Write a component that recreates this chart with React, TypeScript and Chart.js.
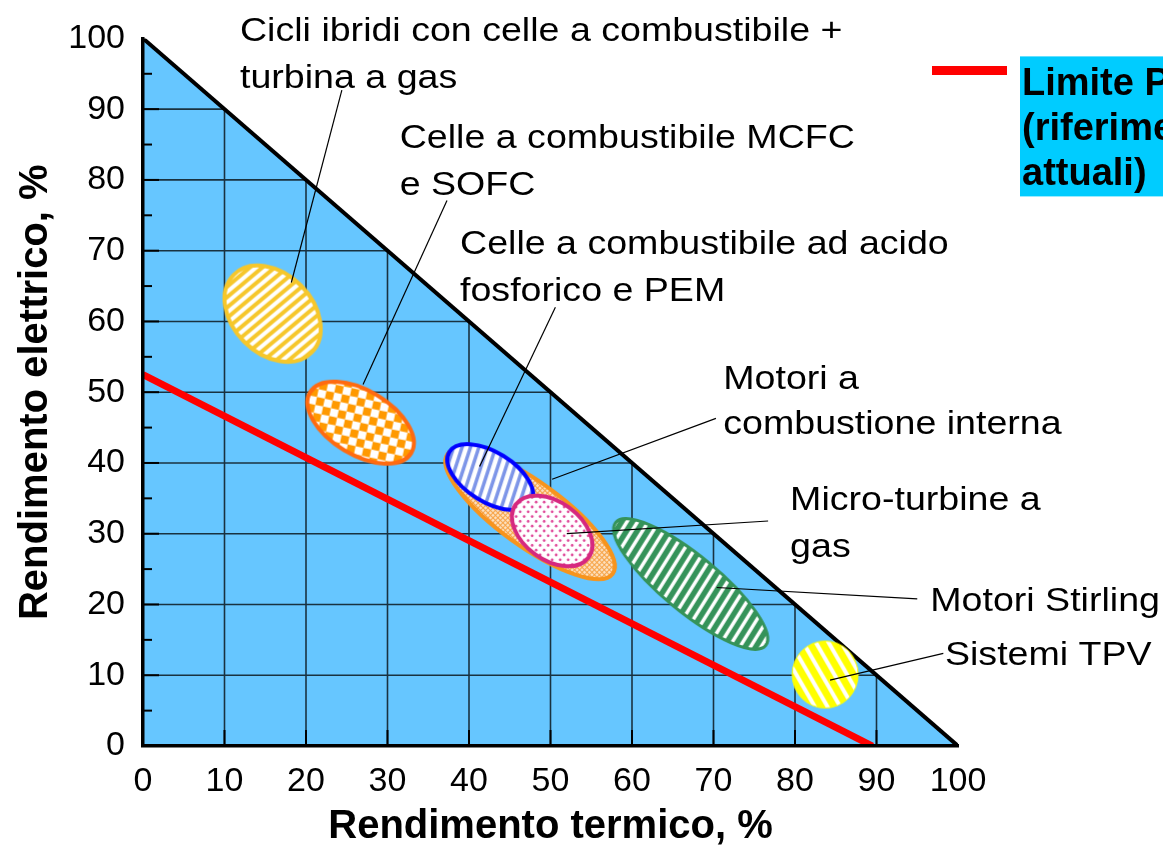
import React, { useEffect, useRef } from 'react';
import { Chart, registerables } from 'chart.js';

Chart.register(...registerables);

// ---------- data ----------
const axisTicks = [0, 10, 20, 30, 40, 50, 60, 70, 80, 90, 100];
const minorTicks = [5, 15, 25, 35, 45, 55, 65, 75, 85, 95];
const gridValues = [10, 20, 30, 40, 50, 60, 70, 80, 90];

const technologies = [
  'Cicli ibridi con celle a combustibile + turbina a gas',
  'Celle a combustibile MCFC e SOFC',
  'Motori a combustione interna',
  'Celle a combustibile ad acido fosforico e PEM',
  'Micro-turbine a gas',
  'Motori Stirling',
  'Sistemi TPV',
];
// centre of each technology region (rendimento termico %, rendimento elettrico %)
const thermalEfficiency = [15.9, 26.7, 47.5, 42.6, 50.2, 67.2, 83.7];
const electricEfficiency = [61.1, 45.7, 32.8, 38.0, 30.4, 22.9, 10.1];

// PES limit line (current reference values)
const pesLimitThermal = [0, 89.5];
const pesLimitElectric = [52.5, 0];

// physical boundary: thermal + electric = 100 %
const boundaryThermal = [0, 100];
const boundaryElectric = [100, 0];

const legendLabel = ['Limite PES', '(riferimenti', 'attuali)'];

// ---------- styles / layout ----------
type Pattern = { kind: string; angle?: number; period?: number; width?: number; color: string; size?: number; spacing?: number; r?: number };
type EllipseStyle = { a: number; b: number; rot: number; fill: string; stroke: string; lw: number; pattern: Pattern; layer: number };

const ellipseStyles: EllipseStyle[] = [
  { a: 55, b: 40, rot: 45, fill: '#FFFFFF', stroke: '#F6C72B', lw: 4, layer: 5,
    pattern: { kind: 'stripes', angle: -40, period: 8, width: 4, color: '#F6C72B' } },
  { a: 59, b: 32, rot: 31, fill: '#FFFFFF', stroke: '#FF6A10', lw: 4, layer: 5,
    pattern: { kind: 'checker', size: 8, angle: 12, color: '#FF9900' } },
  { a: 102, b: 32, rot: 35.9, fill: '#FDE2C2', stroke: '#F7941D', lw: 4, layer: 4,
    pattern: { kind: 'hatch', period: 3.5, width: 1, color: '#F7A040' } },
  { a: 48, b: 25, rot: 31.6, fill: '#FFFFFF', stroke: '#0000FF', lw: 4, layer: 3,
    pattern: { kind: 'stripes', angle: -72, period: 8, width: 3.5, color: '#7D95E8' } },
  { a: 45, b: 29, rot: 36, fill: '#FFFFFF', stroke: '#D6287F', lw: 4, layer: 2,
    pattern: { kind: 'dots', spacing: 8, r: 1.4, color: '#E04A9A' } },
  { a: 97, b: 28, rot: 39.4, fill: '#35935A', stroke: '#35935A', lw: 3, layer: 5,
    pattern: { kind: 'stripes', angle: -58, period: 9, width: 3.5, color: '#FFFFFF' } },
  { a: 33, b: 33.5, rot: 0, fill: '#FFFF00', stroke: '#FFFF00', lw: 1, layer: 5,
    pattern: { kind: 'stripes', angle: 60, period: 11, width: 4, color: '#FFFFFF' } },
];

// label anchors (data units): text left/baseline, leader line start -> end
const labelLayout = [
  { lines: ['Cicli ibridi con celle a combustibile +', 'turbina a gas'], x: 11.9, y: 99.7, gap: 47, lead: [24.4, 92.7, 18.2, 65.5] },
  { lines: ['Celle a combustibile MCFC', 'e SOFC'], x: 31.5, y: 84.5, gap: 47, lead: [37.3, 77.1, 27.0, 51.1] },
  { lines: ['Motori a', 'combustione interna'], x: 71.2, y: 50.5, gap: 45, lead: [70.3, 46.3, 50.2, 37.7] },
  { lines: ['Celle a combustibile ad acido', 'fosforico e PEM'], x: 38.9, y: 69.5, gap: 47, lead: [50.6, 62.0, 41.3, 39.5] },
  { lines: ['Micro-turbine a', 'gas'], x: 79.4, y: 33.3, gap: 47, lead: [76.7, 31.8, 52.0, 30.0] },
  { lines: ['Motori Stirling'], x: 96.6, y: 19.1, gap: 47, lead: [95.0, 20.8, 70.4, 22.4] },
  { lines: ['Sistemi TPV'], x: 98.4, y: 11.5, gap: 47, lead: [98.2, 13.1, 84.3, 9.3] },
];

const FONT = "'Liberation Sans', Arial, Helvetica, sans-serif";

function drawPattern(g: CanvasRenderingContext2D, p: Pattern, size: number) {
  g.save();
  g.translate(size / 2, size / 2);
  g.rotate(((p.angle || 0) * Math.PI) / 180);
  const L = size;
  if (p.kind === 'stripes') {
    g.strokeStyle = p.color;
    g.lineWidth = p.width || 1;
    for (let d = -L; d <= L; d += p.period || 8) {
      g.beginPath();
      g.moveTo(-L, d);
      g.lineTo(L, d);
      g.stroke();
    }
  } else if (p.kind === 'checker') {
    g.fillStyle = p.color;
    const s = p.size || 8;
    const n = Math.ceil(L / s);
    for (let i = -n; i <= n; i++)
      for (let j = -n; j <= n; j++)
        if ((i + j) % 2 === 0) g.fillRect(i * s, j * s, s, s);
  } else if (p.kind === 'hatch') {
    g.strokeStyle = p.color;
    g.lineWidth = p.width || 1;
    for (const ang of [45, -45]) {
      g.save();
      g.rotate((ang * Math.PI) / 180);
      for (let d = -L; d <= L; d += p.period || 4) {
        g.beginPath();
        g.moveTo(-L, d);
        g.lineTo(L, d);
        g.stroke();
      }
      g.restore();
    }
  } else if (p.kind === 'dots') {
    g.fillStyle = p.color;
    const s = p.spacing || 8;
    const n = Math.ceil(L / s);
    for (let j = -2 * n; j <= 2 * n; j++)
      for (let i = -n; i <= n; i++) {
        const x = i * s + (Math.abs(j) % 2 ? s / 2 : 0);
        const y = j * s * 0.6;
        g.beginPath();
        g.arc(x, y, p.r || 1.4, 0, Math.PI * 2);
        g.fill();
      }
  }
  g.restore();
}

function makeEllipseImage(s: EllipseStyle): HTMLCanvasElement {
  const R = Math.ceil(Math.max(s.a, s.b) + s.lw + 2);
  const size = 2 * R;
  const c = document.createElement('canvas');
  c.width = size;
  c.height = size;
  const g = c.getContext('2d')!;
  const path = new Path2D();
  path.ellipse(R, R, s.a, s.b, (s.rot * Math.PI) / 180, 0, Math.PI * 2);
  g.save();
  g.clip(path);
  g.fillStyle = s.fill;
  g.fillRect(0, 0, size, size);
  drawPattern(g, s.pattern, size);
  g.restore();
  g.lineWidth = s.lw;
  g.strokeStyle = s.stroke;
  g.stroke(path);
  return c;
}

const annotationPlugin = {
  id: 'rendimentoAnnotations',
  afterDatasetsDraw(chart: any) {
    const { ctx, chartArea } = chart;
    const xs = chart.scales.x;
    const ys = chart.scales.y;
    ctx.save();
    // small tick marks on the axes
    ctx.strokeStyle = '#000';
    ctx.lineWidth = 2;
    minorTicks.forEach((v) => {
      const py = ys.getPixelForValue(v);
      ctx.beginPath();
      ctx.moveTo(chartArea.left, py);
      ctx.lineTo(chartArea.left + 9, py);
      ctx.stroke();
    });
    axisTicks.slice(1, -1).forEach((v) => {
      const py = ys.getPixelForValue(v);
      ctx.beginPath();
      ctx.moveTo(chartArea.left, py);
      ctx.lineTo(chartArea.left + 16, py);
      ctx.stroke();
      const px = xs.getPixelForValue(v);
      ctx.beginPath();
      ctx.moveTo(px, chartArea.bottom);
      ctx.lineTo(px, chartArea.bottom - 16);
      ctx.stroke();
    });

    // leader lines
    ctx.strokeStyle = '#000';
    ctx.lineWidth = 1.2;
    labelLayout.forEach((l) => {
      ctx.beginPath();
      ctx.moveTo(xs.getPixelForValue(l.lead[0]), ys.getPixelForValue(l.lead[1]));
      ctx.lineTo(xs.getPixelForValue(l.lead[2]), ys.getPixelForValue(l.lead[3]));
      ctx.stroke();
    });

    // labels
    ctx.fillStyle = '#000';
    ctx.font = `34px ${FONT}`;
    ctx.textBaseline = 'alphabetic';
    ctx.textAlign = 'left';
    labelLayout.forEach((l) => {
      const px = xs.getPixelForValue(l.x);
      const py = ys.getPixelForValue(l.y);
      l.lines.forEach((t, k) => {
        ctx.save();
        ctx.translate(px, py + k * l.gap);
        ctx.scale(1.105, 1);
        ctx.fillText(t, 0, 0);
        ctx.restore();
      });
    });

    // legend for PES limit
    const lx = chartArea.right;
    const ty = chartArea.top;
    ctx.strokeStyle = '#FF0000';
    ctx.lineWidth = 9;
    ctx.beginPath();
    ctx.moveTo(lx - 26, ty + 32);
    ctx.lineTo(lx + 49, ty + 32);
    ctx.stroke();
    ctx.fillStyle = '#00CCFF';
    ctx.fillRect(lx + 62, ty + 18, chart.width - (lx + 62), 140);
    ctx.fillStyle = '#000';
    ctx.font = `bold 38px ${FONT}`;
    legendLabel.forEach((t, k) => {
      ctx.fillText(t, lx + 64, ty + 57 + k * 45);
    });
    ctx.restore();
  },
};

export default function App() {
  const ref = useRef<HTMLCanvasElement>(null);
  useEffect(() => {
    document.body.style.margin = '0';
    const canvas = ref.current!;
    Chart.defaults.font.family = FONT;
    Chart.defaults.color = '#000';

    const images = ellipseStyles.map(makeEllipseImage);

    const gridData: { x: number | null; y: number | null }[] = [];
    gridValues.forEach((v) => {
      gridData.push({ x: v, y: 0 }, { x: v, y: 100 - v }, { x: null, y: null });
      gridData.push({ x: 0, y: v }, { x: 100 - v, y: v }, { x: null, y: null });
    });

    const chart = new Chart(canvas, {
      type: 'scatter',
      data: {
        datasets: [
          ...technologies.map((name, i) => ({
            label: name,
            data: [{ x: thermalEfficiency[i], y: electricEfficiency[i] }],
            pointStyle: images[i] as any,
            pointRadius: 10,
            order: ellipseStyles[i].layer,
          })),
          {
            label: legendLabel.join(' '),
            data: pesLimitThermal.map((x, i) => ({ x, y: pesLimitElectric[i] })),
            showLine: true,
            borderColor: '#FF0000',
            borderWidth: 7,
            pointRadius: 0,
            order: 20,
          },
          {
            label: 'griglia',
            data: gridData as any,
            showLine: true,
            spanGaps: false,
            borderColor: 'rgba(0,0,0,0.75)',
            borderWidth: 1.6,
            pointRadius: 0,
            order: 30,
          },
          {
            label: 'limite fisico',
            data: boundaryThermal.map((x, i) => ({ x, y: boundaryElectric[i] })),
            showLine: true,
            fill: 'origin',
            backgroundColor: '#66C6FF',
            borderColor: '#000000',
            borderWidth: 4,
            pointRadius: 0,
            order: 40,
          },
        ],
      },
      options: {
        responsive: false,
        animation: false,
        events: [],
        layout: { padding: { left: 0, top: 35, right: 205, bottom: 0 } },
        plugins: {
          legend: { display: false },
          tooltip: { enabled: false },
        },
        scales: {
          x: {
            type: 'linear',
            min: 0,
            max: 100,
            afterBuildTicks: (s: any) => {
              s.ticks = axisTicks.map((v) => ({ value: v }));
            },
            ticks: { font: { size: 34 }, color: '#000', padding: 15 },
            grid: { display: false, drawTicks: false },
            border: { display: true, color: '#000', width: 3.5, z: 1 },
            title: {
              display: true,
              text: 'Rendimento termico, %',
              font: { size: 40, weight: 'bold' },
              color: '#000',
              padding: { top: 0, bottom: 0 },
            },
            afterFit: (s: any) => {
              s.height = 105;
            },
          },
          y: {
            type: 'linear',
            min: 0,
            max: 100,
            afterBuildTicks: (s: any) => {
              s.ticks = axisTicks.map((v) => ({ value: v }));
            },
            ticks: { font: { size: 34 }, color: '#000', padding: 18 },
            grid: { display: false, drawTicks: false },
            border: { display: true, color: '#000', width: 3.5, z: 1 },
            title: {
              display: true,
              text: 'Rendimento elettrico, %',
              font: { size: 40, weight: 'bold' },
              color: '#000',
              padding: { top: 12, bottom: 0 },
            },
            afterFit: (s: any) => {
              s.width = 143;
            },
          },
        },
      } as any,
      plugins: [annotationPlugin],
    });
    return () => chart.destroy();
  }, []);

  return (
    <div style={{ width: 1163, height: 851, overflow: 'hidden', background: '#fff' }}>
      <canvas ref={ref} width={1163} height={851} style={{ display: 'block', width: '1163px', height: '851px' }} />
    </div>
  );
}
